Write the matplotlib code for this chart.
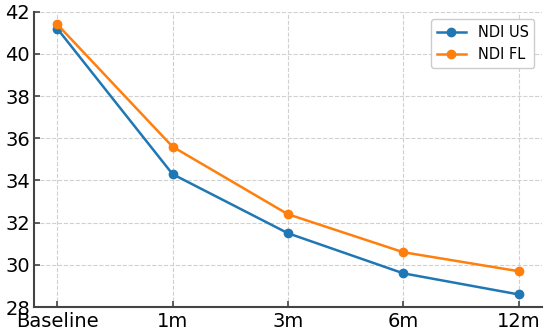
import matplotlib

matplotlib.use("Agg")

import matplotlib.pyplot as plt

# Follow-up visits and NDI scores per group
visits = ["Baseline", "1m", "3m", "6m", "12m"]
ndi_us = [41.2, 34.3, 31.5, 29.6, 28.6]
ndi_fl = [41.4, 35.6, 32.4, 30.6, 29.7]

fig, ax = plt.subplots(figsize=(5.5, 3.32), dpi=100)

x = range(len(visits))
ax.plot(x, ndi_us, marker="o", color="#1f77b4", linewidth=1.8, markersize=6, label="NDI US")
ax.plot(x, ndi_fl, marker="o", color="#ff7f0e", linewidth=1.8, markersize=6, label="NDI FL")

ax.set_xticks(list(x))
ax.set_xticklabels(visits)
ax.set_ylim(28, 42)
ax.set_yticks(range(28, 43, 2))

ax.grid(True, linestyle="--", color="#d0d0d0", linewidth=0.8)
ax.set_axisbelow(True)
for side in ("top", "right"):
    ax.spines[side].set_visible(False)
for side in ("left", "bottom"):
    ax.spines[side].set_color("#444444")
    ax.spines[side].set_linewidth(1.5)
ax.tick_params(direction="in", labelsize=14, color="#444444", width=1.2, length=4)
ax.tick_params(axis="y", pad=3)

ax.legend(loc="upper right", fontsize=10.5, framealpha=1)

fig.subplots_adjust(left=0.062, right=0.985, top=0.965, bottom=0.075)
fig.savefig("out.png")
